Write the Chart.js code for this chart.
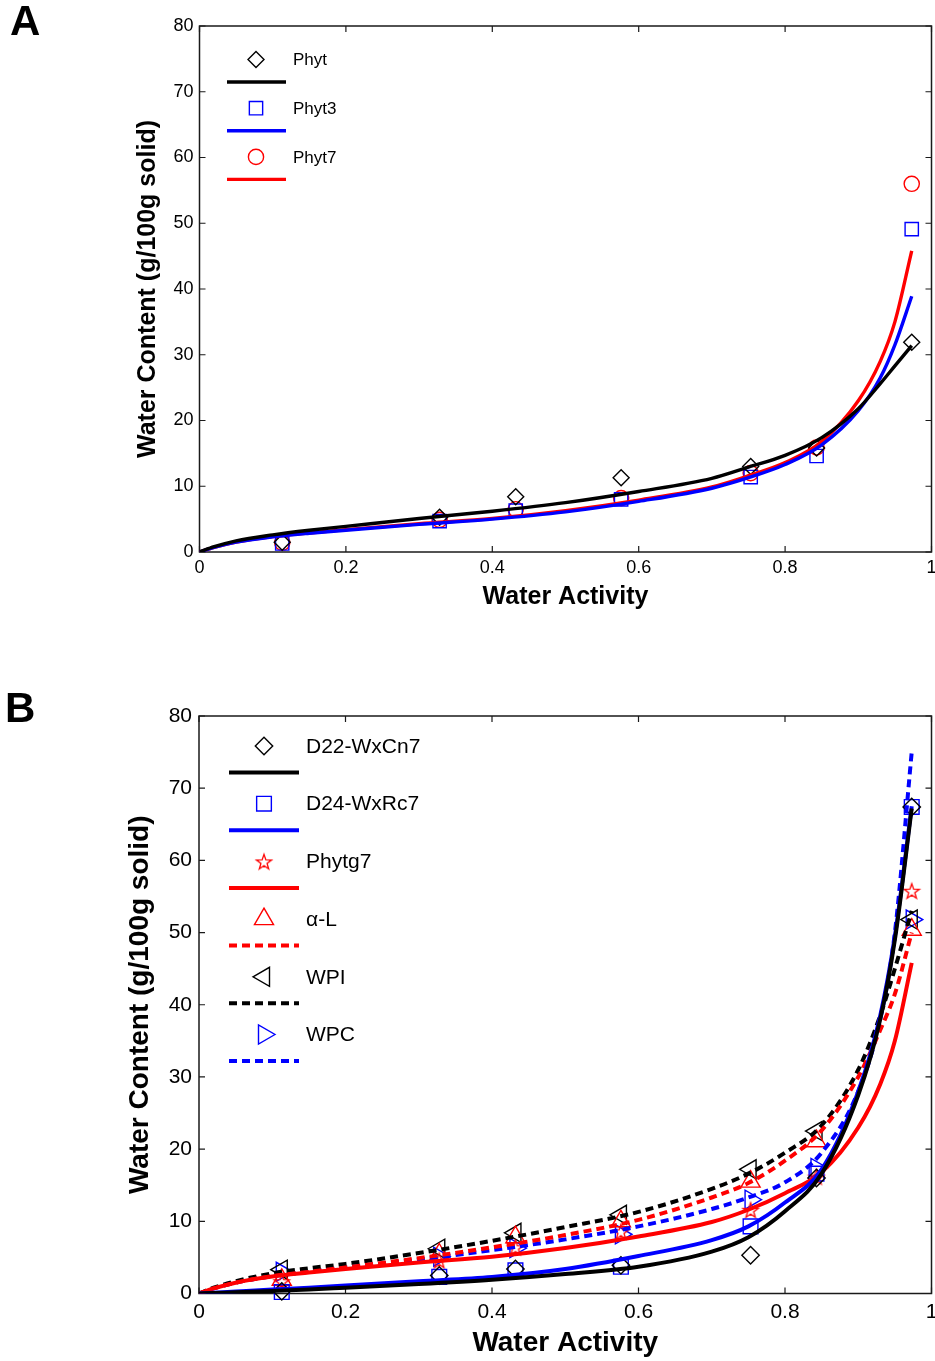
<!DOCTYPE html>
<html>
<head>
<meta charset="utf-8">
<script src="https://cdn.jsdelivr.net/npm/chart.js@4.4.1/dist/chart.umd.min.js"></script>
<style>
  html, body { margin: 0; padding: 0; background: #fff; overflow: hidden; }
  #page { position: relative; width: 935px; height: 1361px; overflow: hidden; }
  .panel { position: absolute; left: 0; width: 945px; }
  .tag { position: absolute; font: bold 42px "Liberation Sans", Arial, sans-serif; line-height: 1; }
</style>
</head>
<body>
<div id="page">
  <div class="panel" style="top:0; height:625px;"><canvas id="chartA"></canvas></div>
  <div class="panel" style="top:640px; height:721px;"><canvas id="chartB"></canvas></div>
  <div class="tag" style="left:10px; top:0px;">A</div>
  <div class="tag" style="left:5px; top:687px;">B</div>
</div>
<script>
// measured water activities (saturated salt solutions)
const aw = [0.113, 0.328, 0.432, 0.576, 0.753, 0.843, 0.973];

// panel A: measured water content
const phyt  = [1.5, 5.3, 8.4, 11.3, 13.0, 15.8, 31.9];
const phyt3 = [1.3, 4.7, 6.3, 8.0, 11.4, 14.6, 49.1];
const phyt7 = [1.4, 4.9, 6.5, 8.2, 12.0, 15.9, 56.0];

// panel B: measured water content
const d22    = [0.3, 2.5, 3.4, 3.9, 5.3, 16.0, 67.4];
const d24    = [0.2, 2.3, 3.2, 3.7, 9.3, 16.6, 67.4];
const phytg7 = [1.7, 4.6, 6.4, 8.6, 11.6, 16.2, 55.8];
const alphaL = [1.9, 5.4, 7.8, 10.0, 15.5, 21.1, 50.4];
const wpi    = [3.3, 6.2, 8.4, 10.9, 17.2, 22.5, 51.8];
const wpc    = [3.0, 5.1, 6.3, 8.2, 13.0, 17.4, 51.8];

// fitted isotherm curves, sampled along aw
const fitAw = [0, 0.02, 0.05, 0.1, 0.15, 0.2, 0.3, 0.4, 0.5, 0.6, 0.7, 0.75, 0.8, 0.85, 0.9, 0.93, 0.95, 0.973];

const phytFit   = [0, 0.8, 1.7, 2.6, 3.3, 3.9, 5.1, 6.2, 7.5, 9.2, 11.2, 12.9, 14.7, 17.4, 21.8, 25.6, 28.3, 31.4];
const phyt3Fit  = [0, 0.7, 1.5, 2.3, 2.85, 3.3, 4.2, 5.0, 6.1, 7.7, 9.7, 11.3, 13.3, 16.3, 21.5, 26.5, 31.5, 38.9];
const phyt7Fit  = [0, 0.7, 1.5, 2.35, 2.9, 3.4, 4.3, 5.1, 6.3, 7.9, 9.9, 11.6, 13.6, 16.8, 23.0, 29.0, 35.0, 45.8];

const d22Fit    = [0, 0.07, 0.17, 0.35, 0.55, 0.8, 1.3, 1.9, 2.7, 3.7, 5.8, 7.8, 11.4, 16.6, 27.5, 38.0, 49.0, 67.2];
const d24Fit    = [0, 0.1, 0.27, 0.55, 0.8, 1.1, 1.7, 2.3, 3.4, 5.2, 7.4, 9.3, 12.6, 17.2, 28.0, 38.5, 49.5, 67.5];
const phytg7Fit = [0, 0.7, 1.5, 2.35, 2.9, 3.4, 4.3, 5.1, 6.3, 7.9, 9.9, 11.6, 13.9, 16.8, 23.0, 29.0, 35.0, 45.8];
const alphaFit  = [0, 0.7, 1.5, 2.4, 3.0, 3.6, 4.9, 6.4, 8.1, 10.2, 13.3, 15.3, 18.4, 22.6, 30.0, 36.5, 41.5, 50.0];
const wpiFit    = [0, 0.8, 1.7, 2.8, 3.5, 4.1, 5.6, 7.3, 9.2, 11.3, 14.5, 16.6, 19.5, 23.3, 31.0, 38.5, 45.0, 53.0];
const wpcFit    = [0, 0.7, 1.5, 2.4, 3.0, 3.6, 4.7, 6.0, 7.5, 9.3, 11.7, 13.3, 15.4, 19.5, 28.0, 38.0, 50.0, 75.0];

const xTicks = [0, 0.2, 0.4, 0.6, 0.8, 1];
const yTicks = [0, 10, 20, 30, 40, 50, 60, 70, 80];

const FONT = '"Liberation Sans", Arial, sans-serif';
const BLACK = '#000000', BLUE = '#0000ff', RED = '#ff0000';

function pairs(xs, ys) {
  return xs.map((x, i) => ({ x: x, y: ys[i] }));
}

// outlined five-point star, used as a point style
function pentagram(color, r) {
  const c = document.createElement('canvas');
  const size = Math.ceil(2 * r + 4);
  c.width = c.height = size;
  const g = c.getContext('2d');
  g.strokeStyle = color;
  g.lineWidth = 1.3;
  g.beginPath();
  for (let i = 0; i < 10; i++) {
    const rr = i % 2 === 0 ? r : r * 0.4;
    const a = -Math.PI / 2 + i * Math.PI / 5;
    const px = size / 2 + rr * Math.cos(a), py = size / 2 + 1 + rr * Math.sin(a);
    if (i === 0) g.moveTo(px, py); else g.lineTo(px, py);
  }
  g.closePath();
  g.stroke();
  return c;
}

// one legend entry = markers dataset + curve dataset
function series(label, ys, fit, color, marker, lineWidth, dashed) {
  return [
    {
      label: label,
      data: pairs(aw, ys),
      showLine: false,
      pointStyle: marker.style,
      pointRadius: marker.r,
      pointRotation: marker.rot || 0,
      pointBorderWidth: 1.4,
      pointBorderColor: color,
      pointBackgroundColor: 'rgba(0,0,0,0)',
      pointHoverRadius: marker.r,
      clip: false,
      order: 2
    },
    {
      label: label + ' fit',
      data: pairs(fitAw, fit),
      showLine: true,
      borderColor: color,
      borderWidth: lineWidth,
      borderDash: dashed ? [8, 5] : [],
      pointRadius: 0,
      cubicInterpolationMode: 'monotone',
      order: 1
    }
  ];
}

const frameTicks = {
  id: 'frameTicks',
  beforeDatasetsDraw(chart) {
    const { ctx, chartArea: a, scales } = chart;
    ctx.save();
    ctx.strokeStyle = '#1a1a1a';
    ctx.lineWidth = 1.5;
    ctx.strokeRect(a.left, a.top, a.right - a.left, a.bottom - a.top);
    ctx.lineWidth = 1.2;
    ctx.beginPath();
    const t = 6;
    xTicks.forEach(v => {
      const px = scales.x.getPixelForValue(v);
      ctx.moveTo(px, a.bottom); ctx.lineTo(px, a.bottom - t);
      ctx.moveTo(px, a.top); ctx.lineTo(px, a.top + t);
    });
    yTicks.forEach(v => {
      const py = scales.y.getPixelForValue(v);
      ctx.moveTo(a.left, py); ctx.lineTo(a.left + t, py);
      ctx.moveTo(a.right, py); ctx.lineTo(a.right - t, py);
    });
    ctx.stroke();
    ctx.restore();
  }
};

const boxLegend = {
  id: 'boxLegend',
  afterDatasetsDraw(chart, args, opts) {
    const { ctx } = chart;
    const ds = chart.data.datasets;
    ctx.save();
    ctx.font = opts.fontSize + 'px ' + FONT;
    ctx.textBaseline = 'middle';
    ctx.fillStyle = '#000';
    for (let i = 0; i < ds.length; i += 2) {
      const k = i / 2;
      const pts = ds[i], line = ds[i + 1];
      const y = opts.top + k * opts.step;
      ctx.strokeStyle = pts.pointBorderColor;
      ctx.fillStyle = 'rgba(0,0,0,0)';
      ctx.lineWidth = pts.pointBorderWidth;
      ctx.setLineDash([]);
      Chart.helpers.drawPoint(ctx, {
        pointStyle: pts.pointStyle, radius: pts.pointRadius,
        rotation: pts.pointRotation, borderWidth: pts.pointBorderWidth
      }, opts.markerX, y);
      ctx.fillStyle = '#000';
      ctx.fillText(pts.label, opts.textX, y + 1);
      ctx.beginPath();
      ctx.strokeStyle = line.borderColor;
      ctx.lineWidth = line.borderWidth;
      ctx.setLineDash(line.borderDash);
      ctx.moveTo(opts.lineX1, y + opts.lineDy);
      ctx.lineTo(opts.lineX2, y + opts.lineDy);
      ctx.stroke();
    }
    ctx.restore();
  }
};

function makePanel(id, datasets, p) {
  return new Chart(document.getElementById(id), {
    type: 'scatter',
    data: { datasets: datasets },
    options: {
      responsive: true,
      maintainAspectRatio: false,
      animation: false,
      events: [],
      layout: { padding: p.padding },
      plugins: {
        legend: { display: false },
        tooltip: { enabled: false },
        boxLegend: p.legend
      },
      scales: {
        x: {
          type: 'linear', min: 0, max: 1,
          afterBuildTicks: s => { s.ticks = xTicks.map(v => ({ value: v })); },
          afterFit: s => { s.height = p.xHeight; },
          grid: { display: false, drawTicks: false },
          border: { display: false },
          ticks: {
            color: '#000', padding: p.xTickPad,
            font: { family: FONT, size: p.tickSize },
            callback: v => (v === 0 || v === 1) ? String(v) : v.toFixed(1)
          },
          title: {
            display: true, text: 'Water Activity', color: '#000',
            padding: 0, font: { family: FONT, size: p.titleSize, weight: 'bold', lineHeight: 1.2 }
          }
        },
        y: {
          type: 'linear', min: 0, max: 80,
          afterBuildTicks: s => { s.ticks = yTicks.map(v => ({ value: v })); },
          afterFit: s => { s.width = p.yWidth; },
          grid: { display: false, drawTicks: false },
          border: { display: false },
          ticks: {
            color: '#000', padding: p.yTickPad,
            font: { family: FONT, size: p.tickSize }
          },
          title: {
            display: true, text: 'Water Content (g/100g solid)', color: '#000',
            padding: 0, font: { family: FONT, size: p.titleSize, weight: 'bold', lineHeight: 1.2 }
          }
        }
      }
    },
    plugins: [frameTicks, boxLegend]
  });
}

// panel A
const mA = {
  diamond: { style: 'rectRot', r: 8 },
  square: { style: 'rect', r: 9.4 },
  circle: { style: 'circle', r: 7.6 }
};
makePanel('chartA', [
  ...series('Phyt', phyt, phytFit, BLACK, mA.diamond, 3.4, false),
  ...series('Phyt3', phyt3, phyt3Fit, BLUE, mA.square, 3.4, false),
  ...series('Phyt7', phyt7, phyt7Fit, RED, mA.circle, 3.4, false)
], {
  padding: { left: 133, top: 26, right: 13.5, bottom: 13 },
  yWidth: 66.5, xHeight: 60,
  tickSize: 18, titleSize: 25, xTickPad: 5, yTickPad: 6,
  legend: { top: 59.5, step: 48.7, markerX: 256, textX: 293, lineX1: 227, lineX2: 286, lineDy: 22.5, fontSize: 17 }
});

// panel B
const mB = {
  diamond: { style: 'rectRot', r: 8.7 },
  square: { style: 'rect', r: 10.4 },
  star: { style: pentagram(RED, 8), r: 8 },
  up: { style: 'triangle', r: 11 },
  left: { style: 'triangle', r: 11, rot: -90 },
  right: { style: 'triangle', r: 11, rot: 90 }
};
makePanel('chartB', [
  ...series('D22-WxCn7', d22, d22Fit, BLACK, mB.diamond, 4, false),
  ...series('D24-WxRc7', d24, d24Fit, BLUE, mB.square, 4, false),
  ...series('Phytg7', phytg7, phytg7Fit, RED, mB.star, 4, false),
  ...series('\u03b1-L', alphaL, alphaFit, RED, mB.up, 4, true),
  ...series('WPI', wpi, wpiFit, BLACK, mB.left, 4, true),
  ...series('WPC', wpc, wpcFit, BLUE, mB.right, 4, true)
], {
  padding: { left: 123, top: 76, right: 13.5, bottom: 1.2 },
  yWidth: 76, xHeight: 66.3,
  tickSize: 21, titleSize: 28, xTickPad: 6, yTickPad: 7,
  legend: { top: 106, step: 57.7, markerX: 264, textX: 306, lineX1: 229, lineX2: 299, lineDy: 26.5, fontSize: 21 }
});
</script>
</body>
</html>
